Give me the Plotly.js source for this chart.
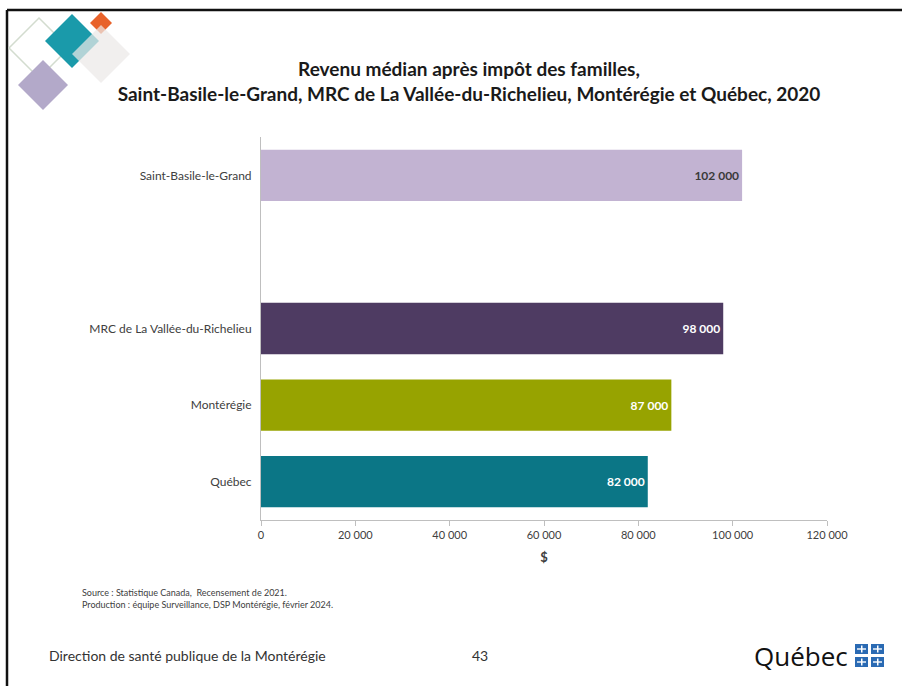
<!DOCTYPE html>
<html>
<head>
<meta charset="utf-8">
<script src="https://cdn.plot.ly/plotly-3.0.1.min.js"></script>
<style>
html,body{margin:0;padding:0;background:#fff;}
#chart{width:902px;height:686px;}
</style>
</head>
<body>
<div id="chart"></div>
<script>
// ---- data ----
const categories = ['Québec', 'Montérégie', 'MRC de La Vallée-du-Richelieu', ' ', 'Saint-Basile-le-Grand'];
const values = [82000, 87000, 98000, null, 102000];
const barColors = ['#0B7686', '#97A300', '#4E3B62', '#ffffff', '#C2B3D2'];
const labelColors = ['#ffffff', '#ffffff', '#ffffff', '#ffffff', '#3a3a3a'];
const xTickValues = [0, 20000, 40000, 60000, 80000, 100000, 120000];

const FONT = 'Lato, "Noto Sans", sans-serif';

function fmt(v) {
  if (v === null) return '';
  return String(v).replace(/\B(?=(\d{3})+(?!\d))/g, ' ');
}

// pixel -> paper helpers for decorations
const L = 261, R = 827, T = 137, B = 520;
const px = x => (x - L) / (R - L);
const py = y => (B - y) / (B - T);

function diamond(cx, cy, h, fill, line, opacity) {
  const p = `M ${px(cx)} ${py(cy - h)} L ${px(cx + h)} ${py(cy)} L ${px(cx)} ${py(cy + h)} L ${px(cx - h)} ${py(cy)} Z`;
  return {type: 'path', xref: 'paper', yref: 'paper', path: p,
    fillcolor: fill, opacity: opacity === undefined ? 1 : opacity,
    line: line ? {color: line, width: 1.5} : {width: 0}, layer: 'above'};
}
function rect(x0, y0, x1, y1, fill) {
  return {type: 'rect', xref: 'paper', yref: 'paper', x0: px(x0), x1: px(x1), y0: py(y1), y1: py(y0),
    fillcolor: fill, line: {width: 0}, layer: 'above'};
}
function flag(x, y) {
  return [
    rect(x, y, x + 13, y + 10, '#2A6AB3'),
    rect(x + 6, y + 1.5, x + 7.5, y + 8.5, '#ffffff'),
    rect(x + 2, y + 4.3, x + 11, y + 5.7, '#ffffff')
  ];
}

const shapes = [
  // slide frame
  {type: 'line', xref: 'paper', yref: 'paper', x0: px(7), x1: px(902), y0: py(10), y1: py(10), line: {color: '#111', width: 2.5}},
  {type: 'line', xref: 'paper', yref: 'paper', x0: px(7), x1: px(7), y0: py(10), y1: py(686), line: {color: '#111', width: 2.5}},
  // decoration
  diamond(39, 48, 30, 'rgba(0,0,0,0)', '#D3DCCF'),
  diamond(43, 85, 25, '#B3A9C9'),
  diamond(72, 41, 27, '#1A9AAA'),
  diamond(101, 23, 11, '#E8622A'),
  diamond(101, 54, 29, '#ECE9E7', null, 0.72),
].concat(flag(855, 644), flag(871, 644), flag(855, 657), flag(871, 657));

const trace = {
  type: 'bar',
  orientation: 'h',
  y: categories,
  x: values,
  marker: {color: barColors, line: {width: 0}},
  width: 0.67,
  text: values.map(fmt),
  textposition: 'inside',
  insidetextanchor: 'end',
  textfont: {family: FONT, size: 12, color: labelColors, weight: 'bold'},
  cliponaxis: false,
  hoverinfo: 'x+y'
};

const layout = {
  width: 902, height: 686,
  margin: {l: L, r: 902 - R, t: T, b: 686 - B},
  paper_bgcolor: '#ffffff',
  plot_bgcolor: '#ffffff',
  separators: ', ',
  showlegend: false,
  font: {family: FONT, color: '#404040'},
  title: {
    text: 'Revenu médian après impôt des familles,<br>Saint-Basile-le-Grand, MRC de La Vallée-du-Richelieu, Montérégie et Québec, 2020',
    font: {family: FONT, size: 19, color: '#1a1a1a', weight: 'bold'},
    xref: 'container', x: 469 / 902, xanchor: 'center',
    yref: 'container', y: 1 - 76 / 686, yanchor: 'middle'
  },
  xaxis: {
    range: [0, 120000],
    tickvals: xTickValues,
    tickformat: ',d',
    ticks: 'outside', ticklen: 5, tickcolor: '#BFBFBF', tickwidth: 1,
    showline: true, linecolor: '#BFBFBF', linewidth: 1,
    showgrid: false, zeroline: false,
    tickfont: {family: FONT, size: 11, color: '#404040'},
    title: {text: '$', font: {family: FONT, size: 13, color: '#404040', weight: 'bold'}, standoff: 12},
    fixedrange: true
  },
  yaxis: {
    type: 'category',
    categoryorder: 'array',
    categoryarray: categories,
    showline: true, linecolor: '#BFBFBF', linewidth: 1,
    ticks: '', showgrid: false, zeroline: false,
    tickfont: {family: FONT, size: 12, color: '#404040'},
    ticklabelstandoff: 6,
    fixedrange: true
  },
  shapes: shapes,
  annotations: [
    {text: 'Source : Statistique Canada,  Recensement de 2021.<br>Production : équipe Surveillance, DSP Montérégie, février 2024.',
      xref: 'paper', yref: 'paper', x: px(80), y: py(598), xanchor: 'left', yanchor: 'middle', align: 'left',
      showarrow: false, font: {family: FONT, size: 9, color: '#404040'}},
    {text: 'Direction de santé publique de la Montérégie',
      xref: 'paper', yref: 'paper', x: px(47), y: py(655), xanchor: 'left', yanchor: 'middle',
      showarrow: false, font: {family: FONT, size: 14, color: '#333333'}},
    {text: '43',
      xref: 'paper', yref: 'paper', x: px(480), y: py(655), xanchor: 'center', yanchor: 'middle',
      showarrow: false, font: {family: FONT, size: 14, color: '#333333'}},
    {text: 'Québec',
      xref: 'paper', yref: 'paper', x: px(850), y: py(656), xanchor: 'right', yanchor: 'middle',
      showarrow: false, font: {family: '"Open Sans", sans-serif', size: 26, color: '#111111'}}
  ]
};

Plotly.newPlot('chart', [trace], layout, {displayModeBar: false, staticPlot: false});
</script>
</body>
</html>
